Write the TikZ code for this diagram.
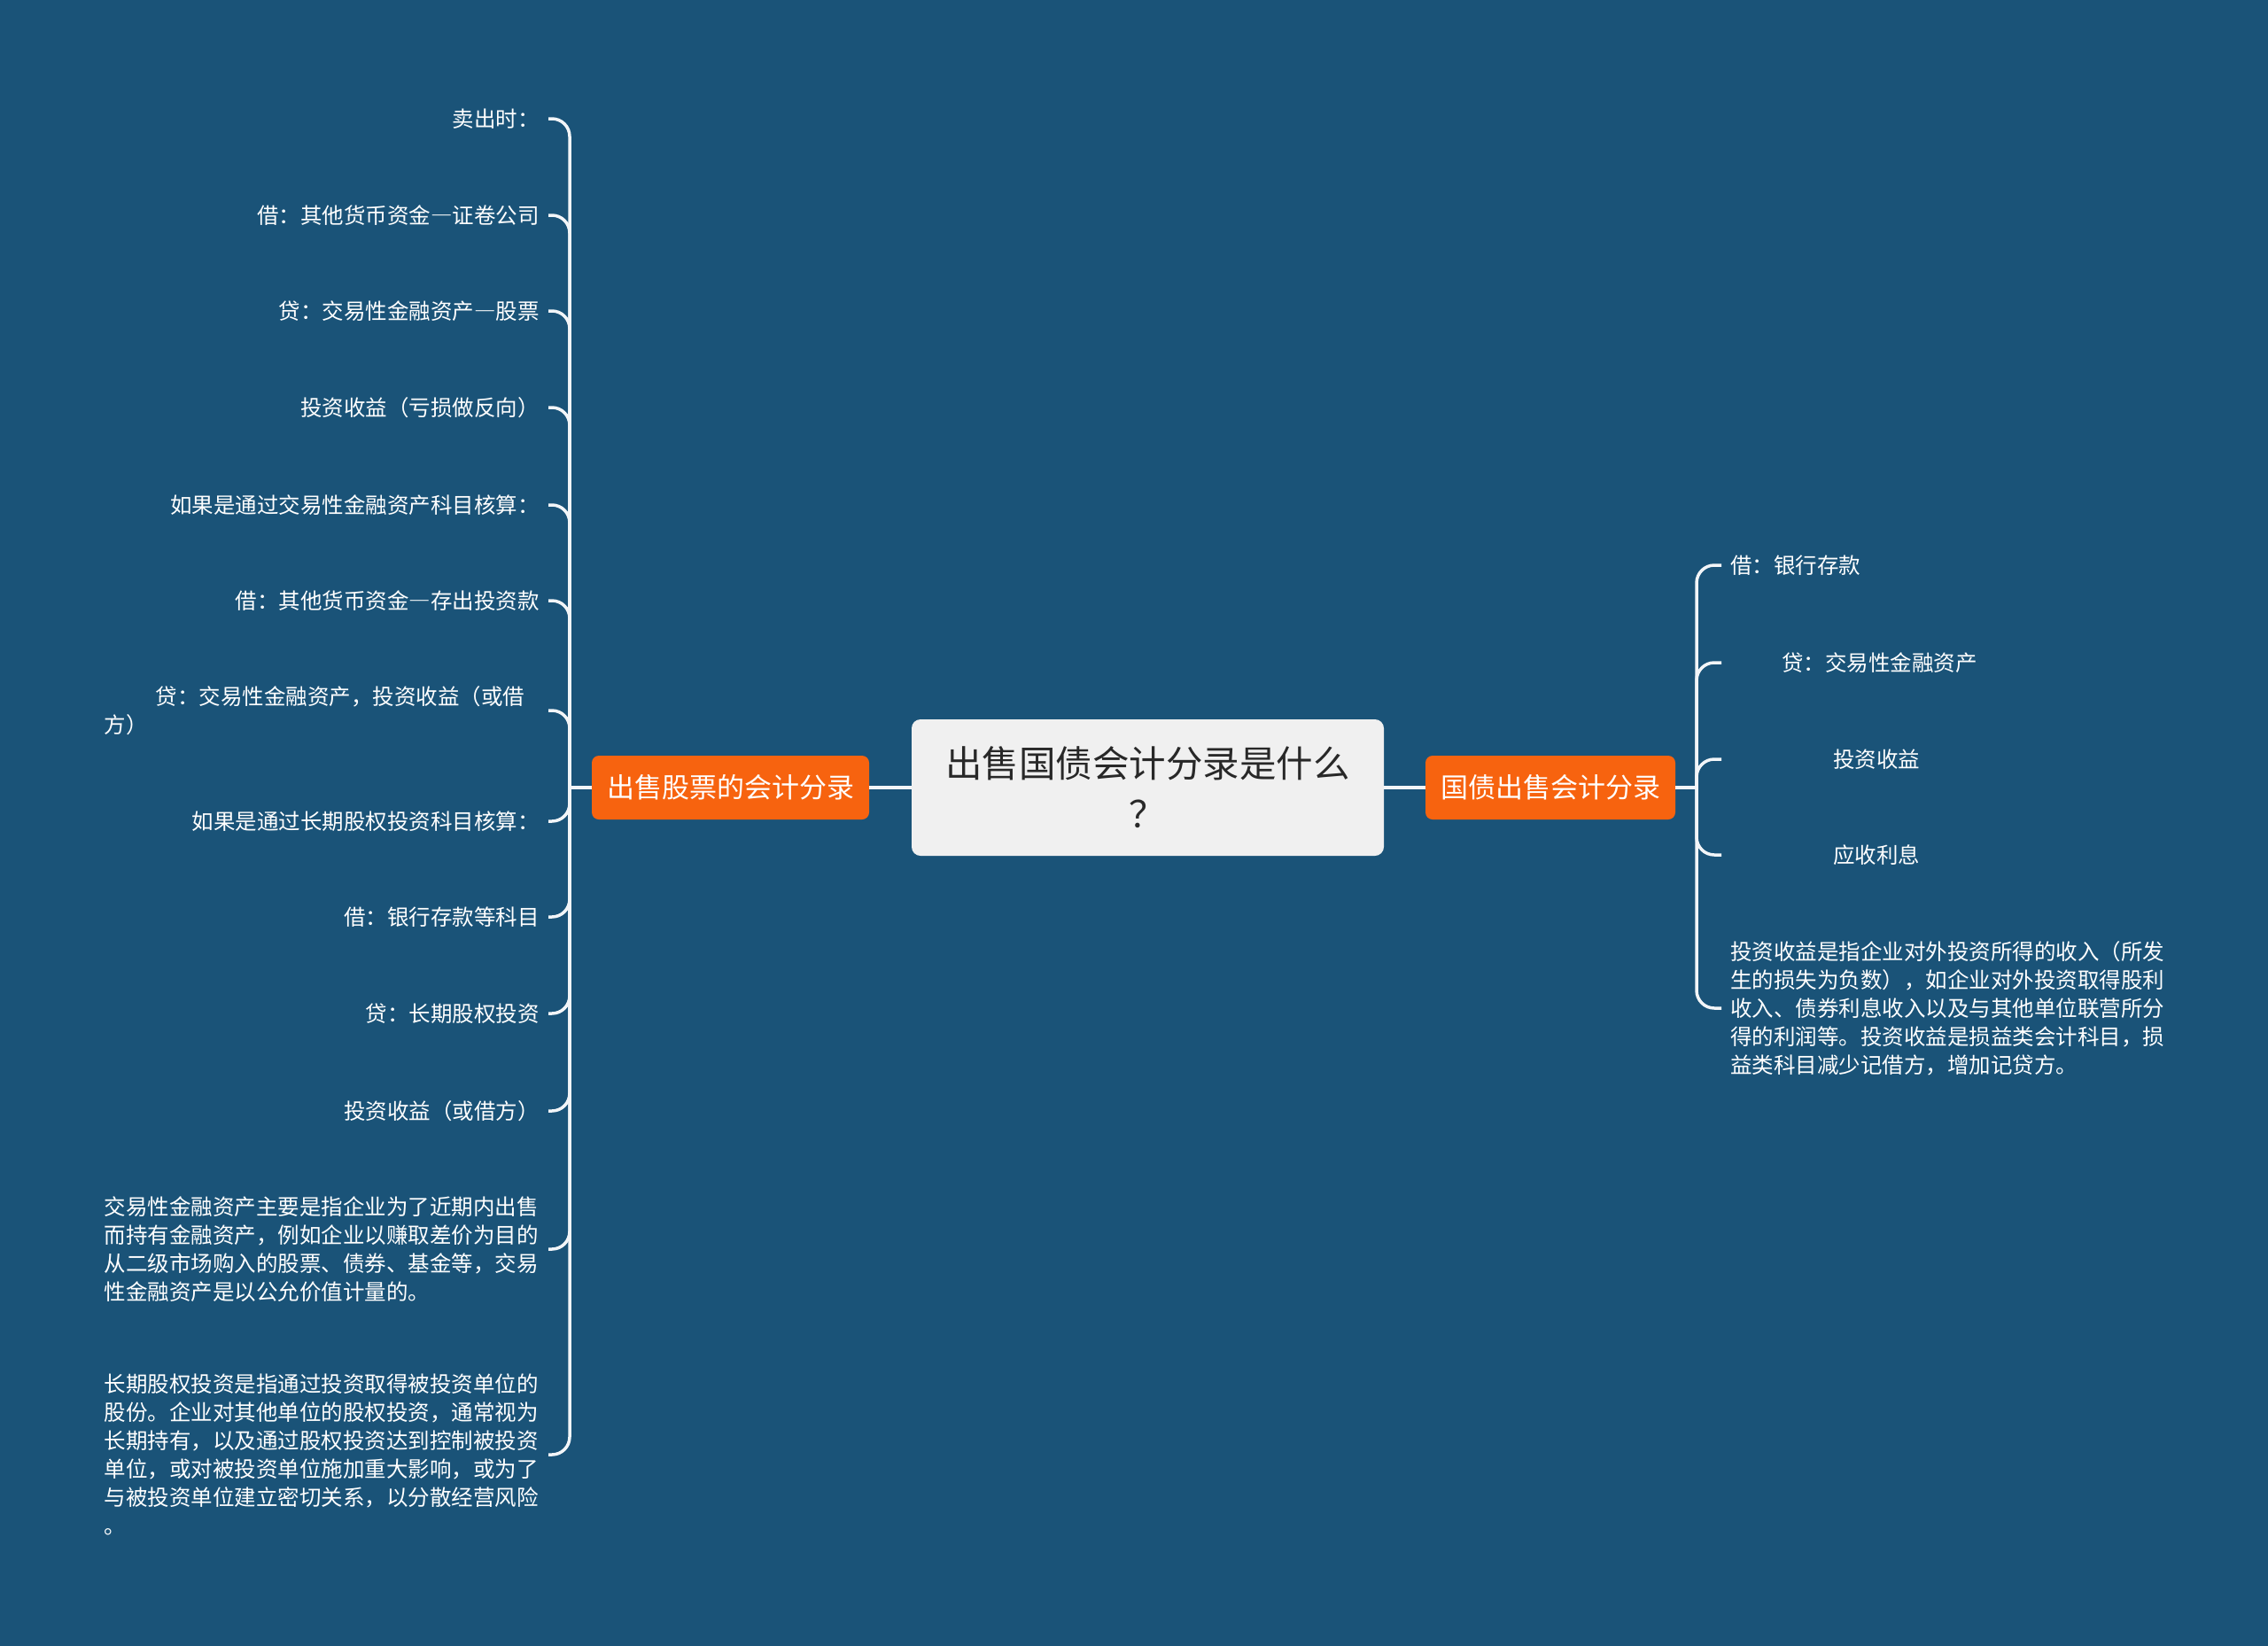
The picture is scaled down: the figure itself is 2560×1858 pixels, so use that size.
\documentclass[tikz,border=0pt]{standalone}
\usepackage{fontspec}
\setmainfont{Noto Sans CJK SC}
\usepackage{tikz}
\usetikzlibrary{positioning}

\definecolor{bgblue}{RGB}{26,83,120}
\definecolor{mainorange}{RGB}{247,99,15}
\definecolor{rootgray}{RGB}{240,240,240}
\definecolor{roottext}{RGB}{40,40,40}
\definecolor{linkwhite}{RGB}{242,245,248}

\begin{document}
\begin{tikzpicture}[x=1pt, y=-1pt,
    root/.style={fill=rootgray, rounded corners=10pt, minimum width=533pt, minimum height=154pt,
                 align=center, text=roottext, font=\fontsize{41.5}{57}\selectfont},
    mainbox/.style={fill=mainorange, rounded corners=8pt, minimum height=72pt, inner xsep=17pt,
                    text=white, font=\fontsize{31}{38}\selectfont},
    leaf/.style={inner xsep=10pt, inner ysep=2pt, text=white, font=\fontsize{24.5}{32}\selectfont},
    para/.style={leaf, text width=491pt, align=left},
    link/.style={draw=linkwhite, line width=3.5pt, rounded corners=20pt}]
    \fill[bgblue] (0,0) rectangle (2560,1858);
    \useasboundingbox (0,0) rectangle (2560,1858);

    \node[root] (root) at (1295.5,889) {出售国债会计分录是什么\\？};
    \node[mainbox] (lmain) at (824.5,889) {出售股票的会计分录};
    \node[mainbox] (rmain) at (1750,889) {国债出售会计分录};
    \coordinate (jl) at (643,889);
    \coordinate (jr) at (1915,889);

    % left branch
    \node[leaf, anchor=east] (l1) at (619,134) {卖出时：};
    \node[leaf, anchor=east] (l2) at (619,243) {借：其他货币资金―证卷公司};
    \node[leaf, anchor=east] (l3) at (619,351) {贷：交易性金融资产―股票};
    \node[leaf, anchor=east] (l4) at (619,460) {投资收益（亏损做反向）};
    \node[leaf, anchor=east] (l5) at (619,570) {如果是通过交易性金融资产科目核算：};
    \node[leaf, anchor=east] (l6) at (619,678) {借：其他货币资金―存出投资款};
    \node[para, anchor=east] (l7) at (619,802) {\hspace*{58pt}贷：交易性金融资产，投资收益（或借\\方）};
    \node[leaf, anchor=east] (l8) at (619,927) {如果是通过长期股权投资科目核算：};
    \node[leaf, anchor=east] (l9) at (619,1035) {借：银行存款等科目};
    \node[leaf, anchor=east] (l10) at (619,1144) {贷：长期股权投资};
    \node[leaf, anchor=east] (l11) at (619,1254) {投资收益（或借方）};
    \node[para, anchor=east] (l12) at (619,1410) {交易性金融资产主要是指企业为了近期内出售\\而持有金融资产，例如企业以赚取差价为目的\\从二级市场购入的股票、债券、基金等，交易\\性金融资产是以公允价值计量的。};
    \node[para, anchor=east] (l13) at (619,1642) {长期股权投资是指通过投资取得被投资单位的\\股份。企业对其他单位的股权投资，通常视为\\长期持有，以及通过股权投资达到控制被投资\\单位，或对被投资单位施加重大影响，或为了\\与被投资单位建立密切关系，以分散经营风险\\。};

    % right branch
    \node[leaf, anchor=west] (r1) at (1943,638) {借：银行存款};
    \node[leaf, anchor=west] (r2) at (1943,748) {\hspace*{58pt}贷：交易性金融资产};
    \node[leaf, anchor=west] (r3) at (1943,857) {\hspace*{116pt}投资收益};
    \node[leaf, anchor=west] (r4) at (1943,965) {\hspace*{116pt}应收利息};
    \node[para, anchor=west] (r5) at (1943,1138) {投资收益是指企业对外投资所得的收入（所发\\生的损失为负数），如企业对外投资取得股利\\收入、债券利息收入以及与其他单位联营所分\\得的利润等。投资收益是损益类会计科目，损\\益类科目减少记借方，增加记贷方。};

    \draw[link] (root) -- (lmain);
    \draw[link] (root) -- (rmain);
    \draw[link] (lmain) -- (jl);
    \draw[link] (rmain) -- (jr);
    \foreach \i in {1,...,13} {\draw[link] (jl) |- (l\i.east);}
    \foreach \i in {1,...,5} {\draw[link] (jr) |- (r\i.west);}
\end{tikzpicture}
\end{document}
